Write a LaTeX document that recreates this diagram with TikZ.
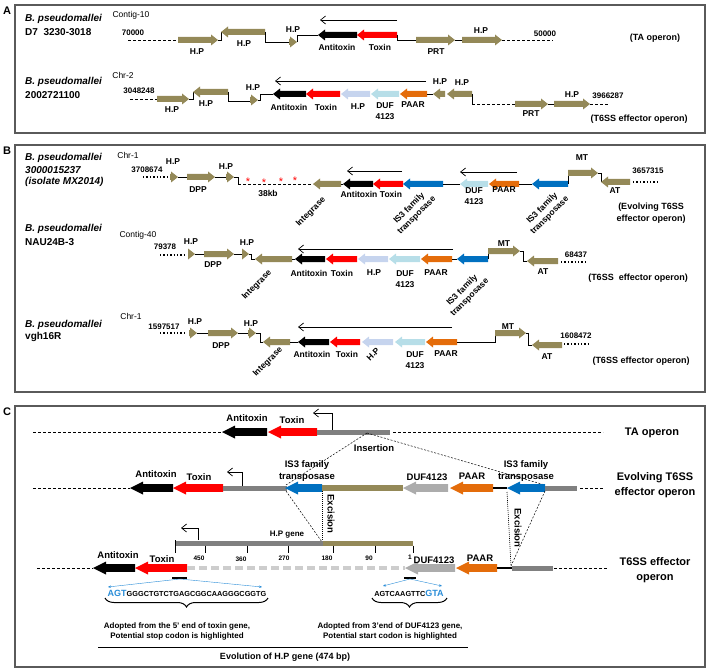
\documentclass[tikz,border=0pt]{standalone}
\usepackage{fontspec}
\setmainfont{Liberation Sans}
\usetikzlibrary{arrows.meta, decorations.pathreplacing}

\definecolor{geneolive}{RGB}{148,137,88}
\definecolor{genelav}{RGB}{198,212,238}
\definecolor{geneduf}{RGB}{183,222,232}
\definecolor{geneorange}{RGB}{228,108,10}
\definecolor{geneblue}{RGB}{0,112,192}
\definecolor{genegray}{RGB}{128,128,128}
\definecolor{genelgray}{RGB}{172,172,172}
\definecolor{genepale}{RGB}{205,205,205}
\definecolor{seqblue}{RGB}{40,140,215}
\definecolor{framegray}{RGB}{90,90,90}

% half shaft, half head, head length
\def\genesh{3}\def\genehw{5.5}\def\genehl{7}
\newcommand{\rgene}[4]{\fill[#1] (#2,#4-\genesh) -- (#3-\genehl,#4-\genesh) -- (#3-\genehl,#4-\genehw) -- (#3,#4) -- (#3-\genehl,#4+\genehw) -- (#3-\genehl,#4+\genesh) -- (#2,#4+\genesh) -- cycle;}
\newcommand{\lgene}[4]{\fill[#1] (#3,#4-\genesh) -- (#2+\genehl,#4-\genesh) -- (#2+\genehl,#4-\genehw) -- (#2,#4) -- (#2+\genehl,#4+\genehw) -- (#2+\genehl,#4+\genesh) -- (#3,#4+\genesh) -- cycle;}

\begin{document}
\begin{tikzpicture}[x=1pt, y=-1pt]
	\tikzstyle{glbl}=[font=\bfseries\fontsize{8.5}{10.5}\selectfont, inner sep=0pt, align=center]
	\tikzstyle{gnum}=[font=\bfseries\fontsize{8}{9}\selectfont, inner sep=0pt]
	\tikzstyle{gchr}=[font=\fontsize{8.5}{9}\selectfont, inner sep=0pt]
	\tikzstyle{gsp}=[font=\bfseries\fontsize{10}{11}\selectfont, inner sep=0pt, anchor=west]
	\tikzstyle{gspi}=[gsp, font=\bfseries\itshape\fontsize{10}{11}\selectfont]
	\tikzstyle{gop}=[font=\bfseries\fontsize{9}{11.5}\selectfont, inner sep=0pt, align=center]
	\tikzstyle{gclbl}=[font=\bfseries\fontsize{9.5}{12}\selectfont, inner sep=0pt, align=center]
	\tikzstyle{gcop}=[font=\bfseries\fontsize{11}{15}\selectfont, inner sep=0pt, align=center]
	\tikzstyle{gtickl}=[font=\bfseries\fontsize{6.5}{7}\selectfont, inner sep=0pt]
	\tikzstyle{gnote}=[font=\bfseries\fontsize{8}{10}\selectfont, inner sep=0pt, align=center]
	\tikzstyle{glink}=[line width=0.6pt]
	\tikzstyle{ggap}=[line width=0.6pt, dash pattern=on 3pt off 2pt]
	\tikzstyle{gdots}=[line width=1.4pt, dash pattern=on 1.4pt off 2pt]
	\tikzstyle{gtr}=[line width=0.7pt, -{Straight Barb[length=5pt,width=8pt]}]
	\tikzstyle{gcut}=[line width=0.5pt, dash pattern=on 2pt off 1.5pt]
	\tikzstyle{gpanel}=[draw=framegray, line width=1.2pt]
	\tikzstyle{gletter}=[font=\bfseries\fontsize{11}{12}\selectfont, inner sep=0pt]
	\tikzstyle{gstar}=[text=red, font=\fontsize{11}{11}\selectfont, inner sep=0pt]
	\tikzstyle{gseq}=[line width=0.4pt, draw=seqblue, -{Stealth[length=3pt,width=2.5pt]}]

	\useasboundingbox (0,0) rectangle (709,671);

	% ---------- panel A ----------
	\draw[gpanel] (15,5) rectangle (705,133);
	\node[gletter] (letA) at (7,11) {A};
	\node[gspi] (spA1) at (25,19) {B. pseudomallei};
	\node[gsp] (spA1b) at (25,32) {D7\ \ 3230-3018};
	\node[gspi] (spA2) at (25,82) {B. pseudomallei};
	\node[gsp] (spA2b) at (25,95) {2002721100};

	% TA operon
	\draw[ggap] (128,40) -- (178,40);
	\rgene{geneolive}{178}{218}{40}
	\draw[glink] (218,40) -- (221,40) -- (221,32);
	\lgene{geneolive}{221}{265}{32}
	\draw[glink] (265,32) -- (265,42) -- (289,42);
	\rgene{geneolive}{289}{297}{42}
	\draw[glink] (297,42) -- (297,35) -- (318,35);
	\lgene{black}{318}{357}{35}
	\lgene{red}{357}{397}{35}
	\draw[glink] (397,35) -- (397,40) -- (416,40);
	\rgene{geneolive}{416}{455}{40}
	\draw[glink] (455,40) -- (462,40);
	\rgene{geneolive}{462}{502}{40}
	\draw[ggap] (502,40) -- (553,40);
	\draw[gtr] (397,20) -- (320,20);
	\foreach \x/\y/\t [count=\i] in {197/52/H.P, 244/44/H.P, 293/30/H.P, 337/47/Antitoxin, 380/47/Toxin, 436/52/PRT, 481/31/H.P}
		\node[glbl] (a1l\i) at (\x,\y) {\t};
	\node[gchr] (chrA1) at (131,15) {Contig-10};
	\node[gnum] (nA1) at (133,33) {70000};
	\node[gnum] (nA1b) at (545,34) {50000};
	\node[gop] (opA1) at (655,38) {(TA operon)};

	% T6SS effector operon
	\draw[ggap] (130,99) -- (157,99);
	\rgene{geneolive}{157}{189}{99}
	\draw[glink] (189,99) -- (193,99) -- (193,92);
	\lgene{geneolive}{193}{228}{92}
	\draw[glink] (228,92) -- (228,101) -- (250,101);
	\rgene{geneolive}{250}{258}{100}
	\draw[glink] (258,100) -- (260,100) -- (260,94) -- (273,94);
	\foreach \c/\a/\b in {black/273/306, red/306/340, genelav/341/370, geneduf/371/399, geneorange/400/427}
		\lgene{\c}{\a}{\b}{94}
	\draw[glink] (427,94) -- (433,94);
	\lgene{geneolive}{433}{445}{94}
	\lgene{geneolive}{447}{472}{94}
	\draw[glink] (472,94) -- (472,104);
	\draw[ggap] (472,104) -- (515,104);
	\rgene{geneolive}{515}{548}{104}
	\draw[glink] (548,104) -- (554,104);
	\rgene{geneolive}{554}{590}{104}
	\draw[ggap] (590,104) -- (608,104);
	\draw[gtr] (426,81) -- (275,81);
	\foreach \x/\y/\t [count=\i] in {172/110/H.P, 206/104/H.P, 253/88/H.P, 289/107/Antitoxin, 326/107/Toxin, 358/107/H.P, 385/111/DUF\\4123, 413/105/PAAR, 440/82/H.P, 462/83/H.P, 531/114/PRT, 572/95/H.P}
		\node[glbl] (a2l\i) at (\x,\y) {\t};
	\node[gchr] (chrA2) at (123,75) {Chr-2};
	\node[gnum] (nA2) at (139,91) {3048248};
	\node[gnum] (nA2b) at (608,96) {3966287};
	\node[gop] (opA2) at (639,119) {(T6SS effector operon)};

	% ---------- panel B ----------
	\draw[gpanel] (15,145) rectangle (705,392);
	\node[gletter] (letB) at (7,151) {B};
	\node[gspi] (spB1) at (25,158) {B. pseudomallei};
	\node[gspi] (spB1b) at (25,170) {3000015237};
	\node[gspi] (spB1c) at (25,182) {(isolate MX2014)};
	\node[gspi] (spB2) at (25,229) {B. pseudomallei};
	\node[gsp] (spB2b) at (25,242) {NAU24B-3};
	\node[gspi] (spB3) at (25,325) {B. pseudomallei};
	\node[gsp] (spB3b) at (25,337) {vgh16R};

	% evolving operon
	\draw[gdots] (143,177) -- (168,177);
	\rgene{geneolive}{170}{178}{177}
	\draw[glink] (178,177) -- (187,177);
	\rgene{geneolive}{187}{215}{177}
	\draw[glink] (215,177) -- (226,177);
	\rgene{geneolive}{226}{234}{177}
	\draw[glink] (234,177) -- (238,177) -- (238,184);
	\draw[ggap] (238,184) -- (313,184);
	\foreach \x/\y [count=\i] in {248/181.5, 264/182.5, 281/181.5, 295/180.5}
		\node[gstar] (star\i) at (\x,\y) {*};
	\foreach \c/\a/\b in {geneolive/313/341, black/343/373, red/373/403, geneblue/403/443}
		\lgene{\c}{\a}{\b}{184}
	\draw[glink] (341,184) -- (343,184);
	\draw[glink] (443,184) -- (460,184);
	\lgene{geneduf}{460}{488}{184}
	\lgene{geneorange}{489}{519}{184}
	\draw[glink] (519,184) -- (532,184);
	\lgene{geneblue}{532}{568}{184}
	\draw[glink] (568,184) -- (568,173);
	\rgene{geneolive}{568}{598}{173}
	\draw[glink] (598,173) -- (601,173) -- (601,182);
	\lgene{geneolive}{601}{630}{182}
	\draw[gdots] (633,182) -- (660,182);
	\draw[gtr] (402,171) -- (347,171);
	\draw[gtr] (517,172) -- (460,172);
	\foreach \x/\y/\t [count=\i] in {173/162/H.P, 226/167/H.P, 198/190/DPP, 268/193/38kb, 359/194/Antitoxin, 391/194/Toxin, 474/196/DUF\\4123, 504/190/PAAR, 582/158/MT, 615/191/AT}
		\node[glbl] (b1l\i) at (\x,\y) {\t};
	\node[glbl, rotate=45] (b1int) at (311,212) {Integrase};
	\node[glbl, rotate=45] (b1is) at (413,212) {IS3 family\\transposase};
	\node[glbl, rotate=45] (b1isb) at (546,212) {IS3 family\\transposase};
	\node[gchr] (chrB1) at (128,155) {Chr-1};
	\node[gnum] (nB1) at (147,170) {3708674};
	\node[gnum] (nB1b) at (648,171) {3657315};
	\node[gop] (opB1) at (651,213) {(Evolving T6SS\\effector operon)};

	% NAU24B-3
	\draw[gdots] (160,255) -- (186,255);
	\rgene{geneolive}{188}{195}{254}
	\draw[glink] (195,254) -- (204,254);
	\rgene{geneolive}{204}{234}{254}
	\draw[glink] (234,254) -- (242,254);
	\rgene{geneolive}{242}{249}{254}
	\draw[glink] (249,254) -- (251,254) -- (251,259) -- (255,259);
	\foreach \c/\a/\b in {geneolive/255/292, black/295/325, red/326/357, genelav/358/388, geneduf/389/420, geneorange/421/452, geneblue/457/488}
		\lgene{\c}{\a}{\b}{259}
	\draw[glink] (292,259) -- (295,259);
	\draw[glink] (452,259) -- (457,259);
	\draw[glink] (488,259) -- (488,251);
	\rgene{geneolive}{488}{520}{251}
	\draw[glink] (520,251) -- (523,251) -- (523,261) -- (527,261);
	\lgene{geneolive}{527}{558}{261}
	\draw[gdots] (561,262) -- (588,262);
	\draw[gtr] (453,249) -- (298,249);
	\foreach \x/\y/\t [count=\i] in {191/242/H.P, 247/243/H.P, 213/265/DPP, 309/273/Antitoxin, 342/273/Toxin, 374/273/H.P, 405/279/DUF\\4123, 436/273/PAAR, 504/244/MT, 543/272/AT}
		\node[glbl] (b2l\i) at (\x,\y) {\t};
	\node[glbl, rotate=45] (b2int) at (257,285) {Integrase};
	\node[glbl, rotate=45] (b2is) at (466,294) {IS3 family\\transposase};
	\node[gchr] (chrB2) at (138,235) {Contig-40};
	\node[gnum] (nB2) at (165,247) {79378};
	\node[gnum] (nB2b) at (576,255) {68437};
	\node[gop] (opB2) at (638,278) {(T6SS\ \ effector operon)};

	% vgh16R
	\draw[gdots] (160,333) -- (186,333);
	\rgene{geneolive}{189}{197}{333}
	\draw[glink] (197,333) -- (208,333);
	\rgene{geneolive}{208}{238}{333}
	\draw[glink] (238,333) -- (248,333);
	\rgene{geneolive}{248}{256}{333}
	\draw[glink] (256,333) -- (260,333) -- (260,342) -- (263,342);
	\foreach \c/\a/\b in {geneolive/263/290, black/298/329, red/330/360, genelav/362/393, geneduf/395/425, geneorange/426/457}
		\lgene{\c}{\a}{\b}{342}
	\draw[glink] (290,342) -- (298,342);
	\draw[glink] (457,342) -- (495,342) -- (495,333);
	\rgene{geneolive}{495}{526}{333}
	\draw[glink] (526,333) -- (528,333) -- (528,345) -- (532,345);
	\lgene{geneolive}{532}{562}{345}
	\draw[gdots] (564,344) -- (588,344);
	\draw[gtr] (452,327) -- (298,327);
	\foreach \x/\y/\t [count=\i] in {195/322/H.P, 251/324/H.P, 221/346/DPP, 312/354/Antitoxin, 347/354/Toxin, 415/360/DUF\\4123, 446/354/PAAR, 508/327/MT, 547/357/AT}
		\node[glbl] (b3l\i) at (\x,\y) {\t};
	\node[glbl, rotate=45] (b3hp) at (373,354) {H.P};
	\node[glbl, rotate=45] (b3int) at (268,362) {Integrase};
	\node[gchr] (chrB3) at (131,316) {Chr-1};
	\node[gnum] (nB3) at (164,327) {1597517};
	\node[gnum] (nB3b) at (576,336) {1608472};
	\node[gop] (opB3) at (641,361) {(T6SS effector operon)};

	% ---------- panel C ----------
	\draw[gpanel] (15,406) rectangle (705,667);
	\node[gletter] (letC) at (7,412) {C};
	\begin{scope}
		\def\genesh{3.8}\def\genehw{6.5}\def\genehl{13}
		% TA operon
		\draw[ggap] (33,432) -- (222,432);
		\lgene{black}{222}{267}{432}
		\lgene{red}{268}{317}{432}
		\fill[genegray] (317,429.5) rectangle (390,434.5);
		\draw[ggap] (393,432) -- (603,432);
		\draw[gtr] (332,430) -- (332,413) -- (313,413);
		\node[gclbl] (c1anti) at (247,418) {Antitoxin};
		\node[gclbl] (c1tox) at (292,420) {Toxin};
		\node[gcop] (c1op) at (652,433) {TA operon};
		\coordinate (ins) at (367,433);
		\draw[gcut] (ins) -- (286,485);
		\draw[gcut] (ins) -- (545,485);
		\node[gclbl] (c1ins) at (374,448) {Insertion};

		% evolving T6SS effector operon
		\draw[ggap] (33,488) -- (130,488);
		\lgene{black}{130}{173}{488}
		\lgene{red}{173}{223}{488}
		\fill[genegray] (223,485.5) rectangle (287,490.5);
		\lgene{geneblue}{285}{322}{488}
		\fill[geneolive] (322,485) rectangle (403,491);
		\lgene{genelgray}{403}{448}{488}
		\lgene{geneorange}{450}{493}{488}
		\draw[line width=1.5pt] (493,488) -- (507,488);
		\lgene{geneblue}{507}{545}{488}
		\fill[genegray] (545,485.5) rectangle (577,490.5);
		\draw[ggap] (580,488) -- (603,488);
		\draw[gtr] (242,486) -- (242,472) -- (227,472);
		\node[gclbl] (c2anti) at (156,474) {Antitoxin};
		\node[gclbl] (c2tox) at (199,477) {Toxin};
		\node[gclbl] (c2is) at (307,471) {IS3 family\\transposase};
		\node[gclbl] (c2duf) at (427,477) {DUF4123};
		\node[gclbl] (c2paar) at (472,476) {PAAR};
		\node[gclbl] (c2isb) at (526,471) {IS3 family\\transposase};
		\node[gcop] (c2op) at (655,485.5) {Evolving T6SS\\effector operon};

		% excision
		\draw[gcut] (286,491) -- (322,542);
		\draw[line width=0.6pt, dash pattern=on 1pt off 1pt] (322,491) -- (322,542);
		\node[gclbl, rotate=-90] (c2exa) at (331,514) {Excision};
		\draw[line width=0.6pt, dash pattern=on 1pt off 1pt] (507,492) -- (511,566);
		\draw[gcut] (545,491) -- (511,566);
		\node[gclbl, rotate=-90] (c2exb) at (518,528) {Excision};

		% H.P gene
		\fill[genegray] (175,540.5) rectangle (323,545.5);
		\fill[geneolive] (323,540.5) rectangle (413,545.5);
		\draw[line width=0.6pt] (175,540) -- (175,553);
		\foreach \x in {205,247,288,333,375,413}
			\draw[line width=0.6pt] (\x,545.5) -- (\x,553);
		\foreach \x/\y/\t [count=\i] in {199/558/450, 241/559/360, 284/558/270, 327/558/180, 369/558/90, 410/557/1}
			\node[gtickl] (tk\i) at (\x,\y) {\t};
		\draw[gtr] (198,540) -- (198,528) -- (181,528);
		\node[gclbl, font=\bfseries\fontsize{8}{9}\selectfont] (c3gene) at (287,535) {H.P gene};

		% T6SS effector operon
		\draw[ggap] (37,568) -- (93,568);
		\lgene{black}{93}{135}{568}
		\lgene{red}{135}{187}{568}
		\draw[genepale, line width=4pt, dash pattern=on 8pt off 4pt] (187,568) -- (405,568);
		\lgene{genelgray}{405}{455}{568}
		\lgene{geneorange}{456}{497}{568}
		\draw[line width=1.5pt] (497,568) -- (512,568);
		\fill[genegray] (512,565.5) rectangle (553,570.5);
		\draw[ggap] (554,568) -- (607,568);
		\node[gclbl] (c3anti) at (118,555) {Antitoxin};
		\node[gclbl] (c3tox) at (162,559) {Toxin};
		\node[gclbl] (c3duf) at (434,560) {DUF4123};
		\node[gclbl] (c3paar) at (480,558) {PAAR};
		\node[gcop] (c3op) at (655,570.5) {T6SS effector\\operon};
	\end{scope}

	% adopted ends
	\draw[line width=1.2pt] (172,578) -- (187,578);
	\draw[gseq] (180,579) -- (108,587);
	\draw[gseq] (180,579) -- (262,587);
	\node[inner sep=0pt, font=\bfseries] (seqa) at (187,593) {{\color{seqblue}\fontsize{9}{10}\selectfont AGT}\fontsize{7.3}{8}\selectfont GGGCTGTCTGAGCGGCAAGGGCGGTG};
	\draw[decorate, decoration={brace, amplitude=9pt}, line width=1pt] (268,598) -- (105,598);
	\node[gnote] (notea) at (177,631) {Adopted from the 5’ end of toxin gene,\\Potential stop codon is highlighted};

	\draw[line width=1.2pt] (404,578) -- (416,578);
	\draw[gseq] (410,579) -- (383,586);
	\draw[gseq] (410,579) -- (442,586);
	\node[inner sep=0pt, font=\bfseries] (seqb) at (409,593) {\fontsize{7.3}{8}\selectfont AGTCAAGTTC{\color{seqblue}\fontsize{9}{10}\selectfont GTA}};
	\draw[decorate, decoration={brace, amplitude=9pt}, line width=1pt] (447,598) -- (372,598);
	\node[gnote] (noteb) at (390,631) {Adopted from 3’end of DUF4123 gene,\\Potential start codon is highlighted};

	\draw[line width=0.8pt] (98,647) -- (468,647);
	\node[gclbl, font=\bfseries\fontsize{9}{10}\selectfont] (evo) at (285,657) {Evolution of H.P gene (474 bp)};
\end{tikzpicture}
\end{document}
